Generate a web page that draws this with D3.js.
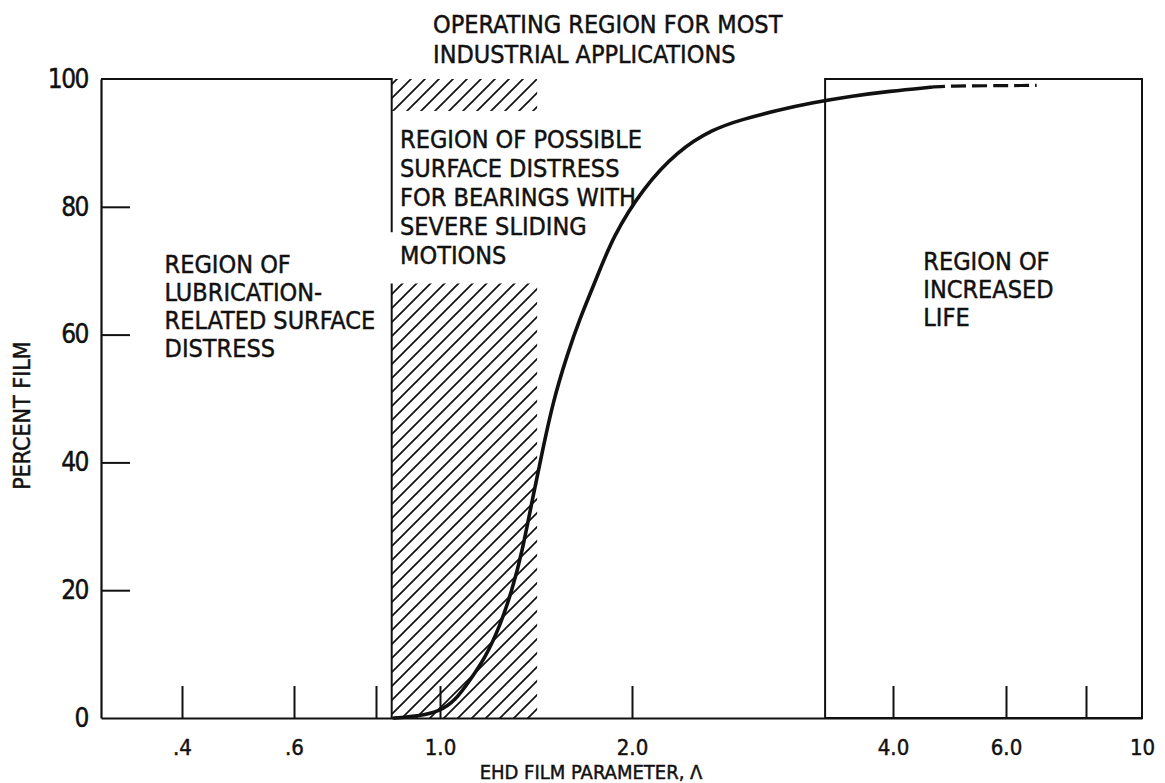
<!DOCTYPE html>
<html>
<head>
<meta charset="utf-8">
<script src="https://cdn.jsdelivr.net/npm/d3@7"></script>
<style>
  html, body { margin: 0; padding: 0; background: #fff; }
  svg { display: block; }
  text { font-family: "Liberation Sans Narrow", "DejaVu Sans Condensed", "DejaVu Sans", sans-serif; fill: #111; stroke: #111; stroke-width: 0.45px; }
</style>
</head>
<body>
<svg id="chart" width="1165" height="783"></svg>
<script>
// ---------------- data ----------------
const xTickValues = [0.4, 0.6, 0.8, 1, 2, 4, 6, 8, 10];
const xTickLabels = [".4", ".6", "", "1.0", "2.0", "4.0", "6.0", "", "10"];
const yTickValues = [0, 20, 40, 60, 80, 100];
const yTickLabels = ["0", "20", "40", "60", "80", "100"];

// solid part of the film curve (lambda, percent film)
const curveLambda  = [0.852, 0.933, 1.0, 1.056, 1.114, 1.177, 1.242, 1.297, 1.344, 1.399, 1.451, 1.504, 1.582, 1.658, 1.750, 1.867, 2.059, 2.255, 2.481, 2.685, 2.939, 3.235, 3.569, 3.968, 4.570];
const curvePercent = [0,     0.3,   1.1, 2.7,   5.9,   9.4,   14.4,  20.0,  25.8,  34.7,  42.3,  49.5,  56.8,  62.6,  68.2,  75.4,  82.9,  88.7,  92.2,  93.7,  95.1,  96.3,  97.3,  98.1,  98.7];
// dashed extension
const dashLambda  = [4.57, 4.73, 6.7];
const dashPercent = [98.7, 98.9, 99.0];

// regions (lambda bounds)
const lubricationRegion = [0.3, 0.845];
const slidingRegion     = [0.845, 1.42];
const increasedLifeRegion = [3.34, 10];
// hatched bands of the sliding region (percent film bounds)
const hatchUpper = [95, 100];
const hatchLower = [0, 68];
const boxEdgeBottom = 76;

const titleLines = ["OPERATING REGION FOR MOST", "INDUSTRIAL APPLICATIONS"];
const leftLines  = ["REGION OF", "LUBRICATION-", "RELATED SURFACE", "DISTRESS"];
const midLines   = ["REGION OF POSSIBLE", "SURFACE DISTRESS", "FOR BEARINGS WITH", "SEVERE SLIDING", "MOTIONS"];
const rightLines = ["REGION OF", "INCREASED", "LIFE"];
// annotation anchors in data units [lambda, percent]
const leftAnchor  = [0.376, 69.6];
const midAnchor   = [0.87, 89.2];
const rightAnchor = [4.46, 70.1];

// ---------------- layout ----------------
const svg = d3.select("#chart");
// hand-drawn axis: piecewise log calibration
const xDomain = [0.3, 0.4, 0.6, 0.8, 1, 2, 4, 6, 8, 10];
const xRange  = [101, 182, 294, 376, 440, 632, 893, 1006, 1086, 1142];
const x = d3.scaleLog().domain(xDomain).range(xRange);
const y = d3.scaleLinear().domain([0, 100]).range([718, 79]);

const ink = "#111";

// hatch pattern
const defs = svg.append("defs");
const pat = defs.append("pattern")
  .attr("id", "hatch").attr("patternUnits", "userSpaceOnUse")
  .attr("width", 14).attr("height", 14);
pat.append("path")
  .attr("d", "M-2,2 L2,-2 M0,14 L14,0 M12,16 L16,12")
  .attr("stroke", ink).attr("stroke-width", 1.7);

// hatched bands
[hatchUpper, hatchLower].forEach(b => {
  svg.append("rect")
    .attr("x", x(slidingRegion[0]))
    .attr("y", y(b[1]))
    .attr("width", x(slidingRegion[1]) - x(slidingRegion[0]))
    .attr("height", y(b[0]) - y(b[1]))
    .attr("fill", "url(#hatch)");
});
// left edge of lower hatched band
svg.append("line")
  .attr("x1", x(slidingRegion[0])).attr("x2", x(slidingRegion[0]))
  .attr("y1", y(hatchLower[1])).attr("y2", y(0))
  .attr("stroke", ink).attr("stroke-width", 2);

// left region box (top + right edge)
svg.append("path")
  .attr("d", d3.line()([
    [x(lubricationRegion[0]), y(100)],
    [x(lubricationRegion[1]), y(100)],
    [x(lubricationRegion[1]), y(boxEdgeBottom)]
  ]))
  .attr("fill", "none").attr("stroke", ink).attr("stroke-width", 2);

// right region box
svg.append("rect")
  .attr("x", x(increasedLifeRegion[0]))
  .attr("y", y(100))
  .attr("width", x(increasedLifeRegion[1]) - x(increasedLifeRegion[0]))
  .attr("height", y(0) - y(100))
  .attr("fill", "none").attr("stroke", ink).attr("stroke-width", 2);

// axes
const xAxis = d3.axisBottom(x)
  .tickValues(xTickValues)
  .tickFormat((d, i) => xTickLabels[i])
  .tickSizeInner(-32).tickSizeOuter(0).tickPadding(21);
const gx = svg.append("g").attr("transform", `translate(0,${y(0)})`).call(xAxis);
gx.select(".domain").attr("stroke", ink).attr("stroke-width", 2.2);
gx.selectAll(".tick line").attr("stroke", ink).attr("stroke-width", 2)
  .filter(d => d === 10).remove();
gx.selectAll(".tick text").attr("font-size", 22).attr("fill", ink)
  .attr("font-family", "Liberation Sans Narrow, DejaVu Sans Condensed, sans-serif");

const yAxis = d3.axisLeft(y)
  .tickValues(yTickValues)
  .tickFormat((d, i) => yTickLabels[i])
  .tickSizeInner(-29).tickSizeOuter(0).tickPadding(13);
const gy = svg.append("g").attr("transform", `translate(${x(xDomain[0])},0)`).call(yAxis);
gy.select(".domain").attr("stroke", ink).attr("stroke-width", 2.2);
gy.selectAll(".tick line").attr("stroke", ink).attr("stroke-width", 2)
  .filter(d => d === 0 || d === 100).remove();
gy.selectAll(".tick text").attr("font-size", 26).attr("fill", ink)
  .attr("letter-spacing", -1.5)
  .attr("font-family", "Liberation Sans Narrow, DejaVu Sans Condensed, sans-serif");

// curve
const line = d3.line()
  .x(d => x(d[0])).y(d => y(d[1]))
  .curve(d3.curveBasis);
svg.append("path")
  .datum(curveLambda.map((l, i) => [l, curvePercent[i]]))
  .attr("d", line)
  .attr("fill", "none").attr("stroke", ink).attr("stroke-width", 3.6)
  .attr("stroke-linecap", "round");
svg.append("path")
  .datum(dashLambda.map((l, i) => [l, dashPercent[i]]))
  .attr("d", line)
  .attr("fill", "none").attr("stroke", ink).attr("stroke-width", 3.2)
  .attr("stroke-dasharray", "15,6");

// text blocks
function block(lines, px, py, size, lh) {
  const t = svg.append("text").attr("font-size", size).attr("x", px).attr("y", py);
  lines.forEach((s, i) => {
    t.append("tspan").attr("x", px).attr("dy", i === 0 ? 0 : lh).text(s);
  });
}
block(leftLines,  x(leftAnchor[0]),  y(leftAnchor[1]),  25, 28);
block(midLines,   x(midAnchor[0]),   y(midAnchor[1]),   25, 29);
block(rightLines, x(rightAnchor[0]), y(rightAnchor[1]), 25, 28);
block(titleLines, 433, 33, 25, 30);

// axis titles
svg.append("text")
  .attr("x", 591)
  .attr("y", 778.5)
  .attr("text-anchor", "middle")
  .attr("font-size", 20)
  .text("EHD FILM PARAMETER,  \u039B");
svg.append("text")
  .attr("transform", `translate(30,${(y(0) + y(100)) / 2 + 17}) rotate(-90)`)
  .attr("text-anchor", "middle")
  .attr("font-size", 23)
  .text("PERCENT FILM");
</script>
</body>
</html>
